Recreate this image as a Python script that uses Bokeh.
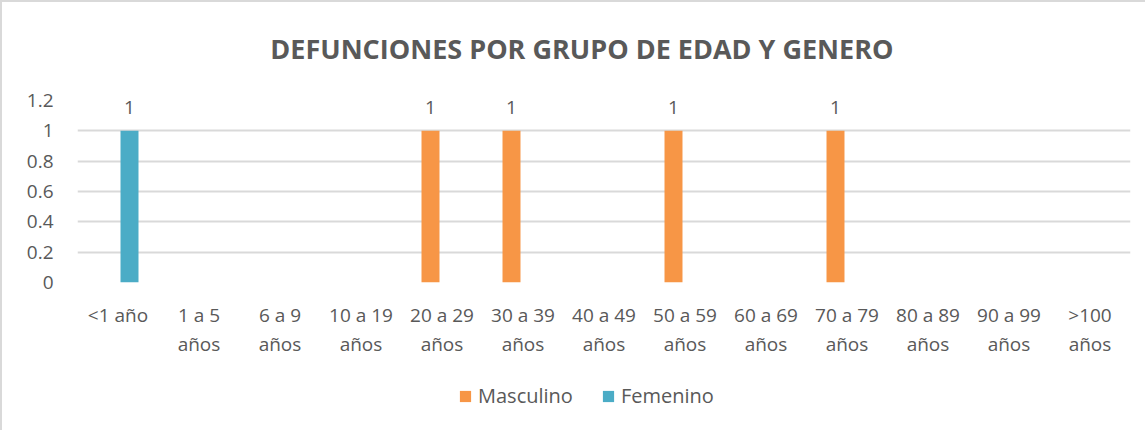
from bokeh.plotting import figure
from bokeh.layouts import column
from bokeh.models import (ColumnDataSource, Range1d, FixedTicker, LinearAxis,
                          Legend, LegendItem, Label)
from bokeh.transform import dodge
from bokeh.core.properties import value
from bokeh.embed import file_html
from bokeh.resources import INLINE

categories = ["<1 año", "1 a 5 años", "6 a 9 años", "10 a 19 años", "20 a 29 años",
              "30 a 39 años", "40 a 49 años", "50 a 59 años", "60 a 69 años",
              "70 a 79 años", "80 a 89 años", "90 a 99 años", ">100 años"]
tick_line1 = ["<1 año", "1 a 5", "6 a 9", "10 a 19", "20 a 29", "30 a 39", "40 a 49",
              "50 a 59", "60 a 69", "70 a 79", "80 a 89", "90 a 99", ">100"]
tick_line2 = ["", "años", "años", "años", "años", "años", "años", "años", "años",
              "años", "años", "años", "años"]
masculino = [0, 0, 0, 0, 1, 1, 0, 1, 0, 1, 0, 0, 0]
femenino = [1, 0, 0, 0, 0, 0, 0, 0, 0, 0, 0, 0, 0]
series_names = ["Masculino", "Femenino"]
y_ticks = [0, 0.2, 0.4, 0.6, 0.8, 1, 1.2]
y_tick_labels = ["0", "0.2", "0.4", "0.6", "0.8", "1", "1.2"]
title_text = "DEFUNCIONES POR GRUPO DE EDAD Y GENERO"

TXT = "#595959"
FONT = "Open Sans"
C_M = "#F79646"
C_F = "#4BACC6"
BORDER = "2px solid #d9d9d9"
W = 1145
NAN = float("nan")


def bare(fig):
    fig.outline_line_color = None
    fig.xgrid.visible = False
    fig.ygrid.visible = False
    return fig


# ---- title strip ----
t = bare(figure(width=W, height=80, x_range=Range1d(0, 1), y_range=Range1d(0, 1),
                output_backend="svg", toolbar_location=None,
                x_axis_location=None, y_axis_location=None, min_border=0))
t.styles = {"border-left": BORDER, "border-top": BORDER}
t.add_layout(Label(x=0.479, y=0.42, text=title_text, text_align="center",
                   text_baseline="middle", text_font=FONT, text_font_size="27px",
                   text_font_style="bold", text_color=TXT))

# ---- main chart ----
idx = list(range(len(categories)))
src = ColumnDataSource(dict(i=idx, cat=categories, m=masculino, f=femenino))
lab_m = ColumnDataSource(dict(i=[i for i, v in zip(idx, masculino) if v > 0],
                              v=[v for v in masculino if v > 0],
                              t=[str(v) for v in masculino if v > 0]))
lab_f = ColumnDataSource(dict(i=[i for i, v in zip(idx, femenino) if v > 0],
                              v=[v for v in femenino if v > 0],
                              t=[str(v) for v in femenino if v > 0]))

p = figure(width=W, height=292, x_range=Range1d(-0.5, len(categories) - 0.5),
           y_range=Range1d(0, 1.2), output_backend="svg", toolbar_location=None,
           min_border_left=75, min_border_right=17, min_border_top=20, min_border_bottom=90)
p.styles = {"border-left": BORDER}

off = 0.142
w = 0.222
p.vbar(x=dodge("i", -off), top="m", width=w, source=src, color=C_M, line_color=None)
p.vbar(x=dodge("i", off), top="f", width=w, source=src, color=C_F, line_color=None)

for s, o in ((lab_m, -off), (lab_f, off)):
    p.text(x=dodge("i", o), y="v", text="t", source=s,
           text_font=value(FONT), text_font_size="19px", text_color=TXT,
           text_align="center", text_baseline="bottom", y_offset=-17)

p.outline_line_color = None
p.xgrid.grid_line_color = None
p.ygrid.grid_line_color = "#d9d9d9"
p.ygrid.grid_line_width = 2
p.yaxis.ticker = FixedTicker(ticks=y_ticks)
p.yaxis.major_label_overrides = dict(zip(y_ticks, y_tick_labels))
p.xaxis.ticker = FixedTicker(ticks=idx)
p.xaxis.major_label_overrides = dict(zip(idx, tick_line1))

x2 = LinearAxis(ticker=FixedTicker(ticks=idx),
                major_label_overrides=dict(zip(idx, tick_line2)))
p.add_layout(x2, "below")

for ax in (p.xaxis[0], x2, p.yaxis[0]):
    ax.axis_line_color = None
    ax.major_tick_line_color = None
    ax.minor_tick_line_color = None
    ax.major_tick_out = 0
    ax.major_tick_in = 0
    ax.minor_tick_out = 0
    ax.minor_tick_in = 0
    ax.major_label_text_font = FONT
    ax.major_label_text_font_size = "19px"
    ax.major_label_text_color = TXT
p.yaxis.major_label_standoff = 24
p.xaxis[0].major_label_standoff = 19
x2.major_label_standoff = 0

# ---- legend strip ----
lg = bare(figure(width=W, height=58, x_range=Range1d(0, 1), y_range=Range1d(0, 1),
                 output_backend="svg", toolbar_location=None,
                 x_axis_location=None, y_axis_location=None, min_border=0))
lg.styles = {"border-left": BORDER}
sw_m = lg.quad(left=[NAN], right=[NAN], top=[NAN], bottom=[NAN], color=C_M, line_color=None)
sw_f = lg.quad(left=[NAN], right=[NAN], top=[NAN], bottom=[NAN], color=C_F, line_color=None)
legend = Legend(items=[LegendItem(label=series_names[0], renderers=[sw_m]),
                       LegendItem(label=series_names[1], renderers=[sw_f])],
                orientation="horizontal", location=(381, 21),
                glyph_width=14, glyph_height=14, label_standoff=6, spacing=28,
                padding=0, margin=0, border_line_color=None, background_fill_alpha=0,
                label_text_font=FONT, label_text_font_size="20px", label_text_color=TXT,
                label_height=14)
lg.add_layout(legend, "center")

layout = column(t, p, lg, spacing=0)
open("out.html", "w").write(file_html(layout, INLINE))
